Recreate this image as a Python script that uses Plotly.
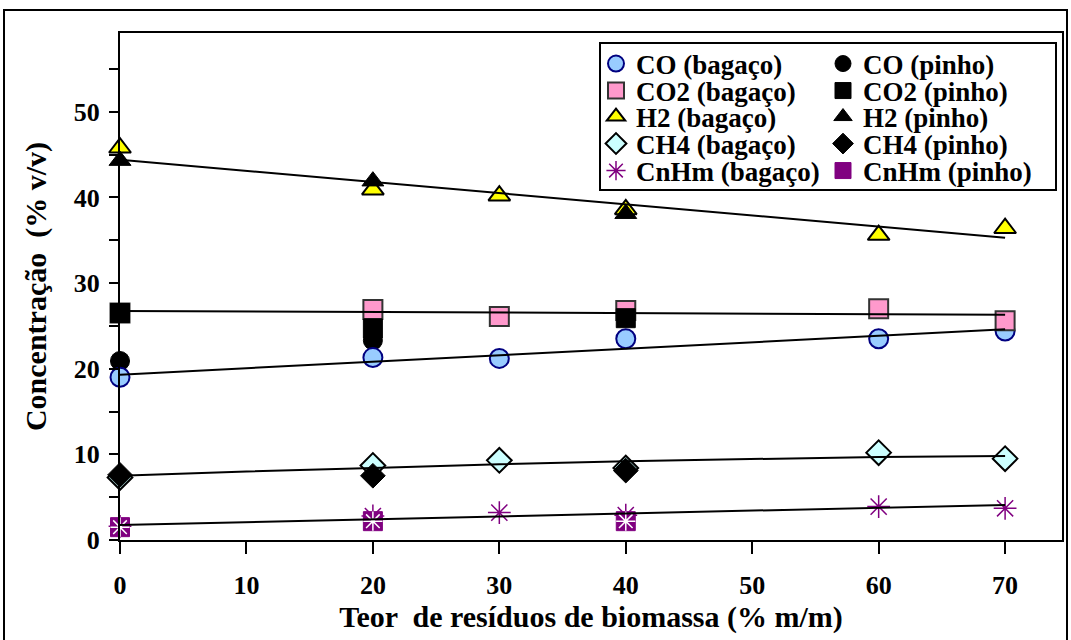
import plotly.graph_objects as go

# ---- data ----
x_bagaco = [0, 20, 30, 40, 60, 70]
co_bagaco = [19.0, 21.3, 21.2, 23.5, 23.5, 24.4]
co2_bagaco = [26.5, 26.9, 26.1, 26.8, 27.0, 25.6]
h2_bagaco = [45.8, 40.9, 40.2, 38.6, 35.6, 36.4]
ch4_bagaco = [7.3, 8.7, 9.3, 8.4, 10.2, 9.5]
cnhm_bagaco = [1.6, 2.8, 3.2, 2.9, 3.9, 3.7]

x_pinho = [0, 20, 40]
co_pinho = [20.9, 23.3, None]
co2_pinho = [26.5, 24.7, 25.9]
h2_pinho = [44.3, 41.9, 38.1]
ch4_pinho = [7.6, 7.5, 8.1]
cnhm_pinho = [1.5, 2.2, 2.2]

# trend lines
trend_x = [0, 70]
co_trend = [19.3, 24.6]
co2_trend = [26.75, 26.3]
h2_trend = [44.4, 35.3]
cnhm_trend = [1.75, 4.1]
ch4_trend_x = [0, 10, 20, 30, 40, 50, 60, 70]
ch4_trend = [7.5, 8.0, 8.4, 8.85, 9.2, 9.45, 9.7, 9.8]

y_tickvals = [0, 5, 10, 15, 20, 25, 30, 35, 40, 45, 50, 55]
y_ticktext = ["0", "", "10", "", "20", "", "30", "", "40", "", "50", ""]
x_tickvals = [0, 10, 20, 30, 40, 50, 60, 70]

FONT = "Liberation Serif, Times New Roman, serif"
MS = 19

fig = go.Figure()

def add(x, y, name, symbol, fill, line_color, lw, legend, rank, showlegend=True, size=MS):
    fig.add_trace(go.Scatter(
        x=x, y=y, mode="markers", name=name, legend=legend, legendrank=rank,
        showlegend=showlegend, cliponaxis=False,
        marker=dict(symbol=symbol, size=size, color=fill,
                    line=dict(color=line_color, width=lw)),
    ))

add(x_pinho, co_pinho, "CO (pinho)", "circle", "black", "black", 1, "legend", 2)
add(x_bagaco, co_bagaco, "CO (bagaço)", "circle", "#99CCFF", "#000080", 2, "legend", 1)
add(x_bagaco, co2_bagaco, "CO2 (bagaço)", "square", "#FF99CC", "#333333", 2, "legend2", 1)
add(x_pinho, co2_pinho, "CO2 (pinho)", "square", "black", "black", 1, "legend2", 2)
add(x_bagaco, h2_bagaco, "H2 (bagaço)", "triangle-up", "#FFFF00", "black", 2, "legend3", 1)
add(x_pinho, h2_pinho, "H2 (pinho)", "triangle-up", "black", "black", 1, "legend3", 2)
add(x_bagaco, ch4_bagaco, "CH4 (bagaço)", "diamond", "#CCFFFF", "black", 2, "legend4", 1)
add(x_pinho, ch4_pinho, "CH4 (pinho)", "diamond", "black", "black", 1, "legend4", 2)
add(x_bagaco, cnhm_bagaco, "CnHm (bagaço)", "asterisk-open", "#800080", "#800080", 1.5, "legend5", 1)
add(x_pinho, cnhm_pinho, "CnHm (pinho)", "square", "#800080", "#800080", 1, "legend5", 2)
add(x_pinho, cnhm_pinho, "CnHm (pinho) overlay", "asterisk-open", "white", "white", 1.5,
    "legend5", 3, showlegend=False, size=16)

for tx, ty in [(trend_x, co_trend), (trend_x, co2_trend), (trend_x, h2_trend),
               (trend_x, cnhm_trend), (ch4_trend_x, ch4_trend)]:
    fig.add_trace(go.Scatter(x=tx, y=ty, mode="lines", showlegend=False,
                             line=dict(color="black", width=2), hoverinfo="skip"))

L, R, T, B = 120, 9, 33, 100
W, H = 1071, 640
pw, ph = W - L - R, H - T - B

def px(xp):
    return (xp - L) / pw

def py(yp):
    return (H - B - yp) / ph

legend_font = dict(family=FONT, size=27, color="black", weight="bold")
row_centers = [64, 91, 117, 144, 171]
legends = {}
for i, yc in enumerate(row_centers):
    key = "legend" if i == 0 else "legend%d" % (i + 1)
    legends[key] = dict(x=px(596), y=py(yc), xanchor="left", yanchor="middle",
                        orientation="h", entrywidth=182, entrywidthmode="pixels",
                        font=legend_font, bgcolor="rgba(0,0,0,0)",
                        itemsizing="trace")

fig.update_layout(
    width=W, height=H,
    margin=dict(l=L, r=R, t=T, b=B, autoexpand=False),
    paper_bgcolor="white", plot_bgcolor="white",
    font=dict(family=FONT, color="black", weight="bold"),
    xaxis=dict(range=[0, 74.5], tickvals=x_tickvals, showgrid=False, zeroline=False,
               showline=True, linecolor="black", linewidth=2, mirror=True,
               ticks="outside", ticklen=12, tickwidth=2, tickcolor="black",
               ticklabelstandoff=9,
               tickfont=dict(family=FONT, size=26, weight="bold"),
               title=dict(text="Teor  de resíduos de biomassa (% m/m)",
                          font=dict(family=FONT, size=30, weight="bold"), standoff=2)),
    yaxis=dict(range=[0, 59.2], tickvals=y_tickvals, ticktext=y_ticktext,
               showgrid=False, zeroline=False,
               showline=True, linecolor="black", linewidth=2, mirror=True,
               ticks="outside", ticklen=9, tickwidth=2, tickcolor="black",
               ticklabelstandoff=4,
               tickfont=dict(family=FONT, size=26, weight="bold"),
               title=dict(text="Concentração  (% v/v)",
                          font=dict(family=FONT, size=30, weight="bold"), standoff=18)),
    shapes=[
        dict(type="rect", xref="paper", yref="paper", x0=px(600), x1=px(1056),
             y0=py(190), y1=py(43), line=dict(color="black", width=2)),
        dict(type="rect", xref="paper", yref="paper", x0=px(4), x1=px(1067),
             y0=py(645), y1=py(10), line=dict(color="black", width=2)),
    ],
    **legends,
)

fig.write_html("out.html", config={"displayModeBar": False},
               post_script="document.body.style.margin='0px';")
